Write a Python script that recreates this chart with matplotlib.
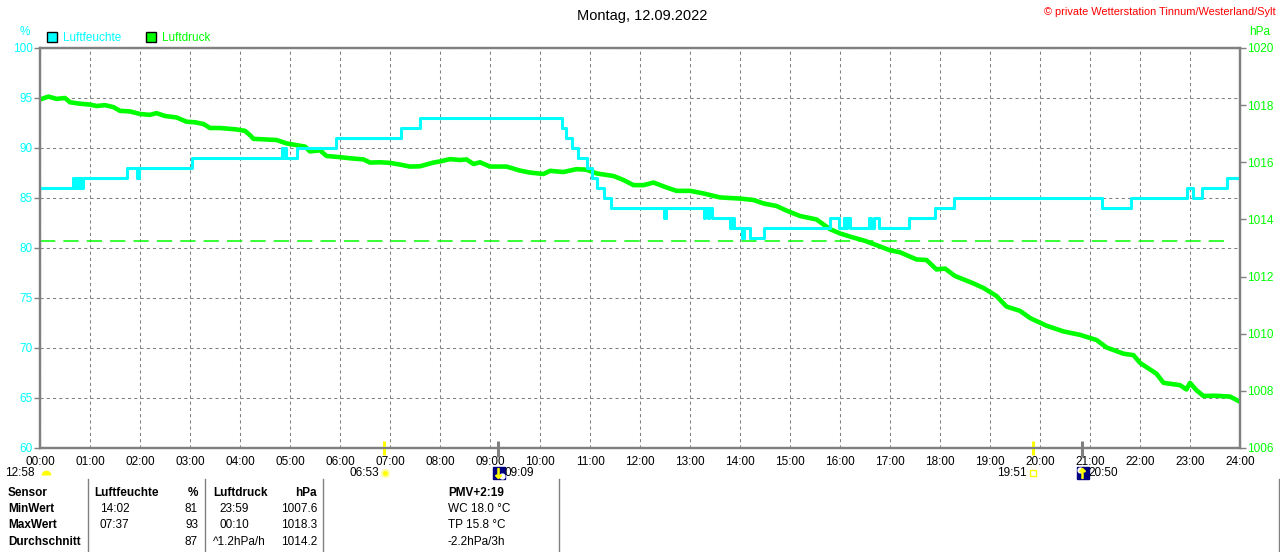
import matplotlib
matplotlib.use("Agg")
import matplotlib.pyplot as plt
from matplotlib.patches import Patch
from matplotlib.lines import Line2D
from matplotlib import transforms

plt.rcParams["font.family"] = ["Liberation Sans", "DejaVu Sans"]

CYAN = "#00FFFF"
GREEN = "#00FF00"
GREY = "#808080"
YELLOW = "#FFFF00"
NAVY = "#000080"

title = "Montag, 12.09.2022"
copyright_txt = "© private Wetterstation Tinnum/Westerland/Sylt"

# Luftfeuchte (%) - step series, hours / value
hum_h = [0, 0.65, 0.68, 0.72, 0.75, 0.78, 0.82, 0.86, 1.73, 1.93, 1.98, 3.03,
         4.83, 4.86, 4.88, 4.92, 5.13, 5.92, 7.21, 7.6, 10.43, 10.51, 10.63,
         10.75, 10.93, 11.03, 11.13, 11.27, 11.41, 12.47, 12.52, 13.27, 13.3,
         13.35, 13.38, 13.43, 13.8, 13.84, 13.87, 14.03, 14.08, 14.2, 14.47,
         15.79, 15.97, 16.07, 16.11, 16.14, 16.2, 16.57, 16.62, 16.67, 16.77,
         17.37, 17.9, 18.27, 21.23, 21.81, 22.93, 23.05, 23.23, 23.73, 24.0]
hum_v = [86, 87, 86, 87, 86, 87, 86, 87, 88, 87, 88, 89,
         90, 89, 90, 89, 90, 91, 92, 93, 92, 91, 90,
         89, 88, 87, 86, 85, 84, 83, 84, 83, 84,
         83, 84, 83, 82, 83, 82, 81, 82, 81, 82,
         83, 82, 83, 82, 83, 82, 83, 82, 83, 82,
         83, 84, 85, 84, 85, 86, 85, 86, 87, 87]

# Luftdruck (hPa)
pres_h = [0.0, 0.17, 0.33, 0.5, 0.6, 0.8, 1.0, 1.13, 1.3, 1.47, 1.6, 1.8, 2.0,
          2.2, 2.33, 2.5, 2.73, 2.93, 3.1, 3.27, 3.4, 3.6, 3.93, 4.1, 4.2,
          4.27, 4.5, 4.73, 4.93, 5.13, 5.3, 5.4, 5.6, 5.73, 6.0, 6.2, 6.47,
          6.6, 6.8, 7.0, 7.2, 7.4, 7.6, 7.87, 8.0, 8.2, 8.4, 8.53, 8.67, 8.8,
          9.0, 9.33, 9.6, 9.8, 10.07, 10.2, 10.47, 10.73, 10.93, 11.13, 11.47,
          11.67, 11.87, 12.07, 12.27, 12.53, 12.73, 13.0, 13.27, 13.6, 14.0,
          14.27, 14.47, 14.73, 14.93, 15.2, 15.53, 15.8, 16.0, 16.2, 16.5,
          16.73, 17.0, 17.2, 17.53, 17.73, 17.93, 18.1, 18.3, 18.67, 18.87,
          19.13, 19.33, 19.6, 19.8, 20.13, 20.47, 20.8, 21.13, 21.33, 21.67,
          21.87, 22.0, 22.33, 22.47, 22.8, 22.93, 23.0, 23.13, 23.27, 23.5,
          23.8, 24.0]
pres_v = [1018.20, 1018.30, 1018.22, 1018.25, 1018.10, 1018.05, 1018.02,
          1017.97, 1018.00, 1017.93, 1017.80, 1017.78, 1017.69, 1017.66,
          1017.72, 1017.62, 1017.57, 1017.42, 1017.40, 1017.34, 1017.20,
          1017.20, 1017.15, 1017.10, 1016.95, 1016.82, 1016.80, 1016.78,
          1016.66, 1016.60, 1016.55, 1016.38, 1016.42, 1016.22, 1016.18,
          1016.14, 1016.10, 1015.99, 1016.00, 1015.98, 1015.92, 1015.85,
          1015.86, 1015.99, 1016.03, 1016.11, 1016.08, 1016.10, 1015.94,
          1016.00, 1015.85, 1015.85, 1015.71, 1015.64, 1015.59, 1015.70,
          1015.66, 1015.76, 1015.74, 1015.61, 1015.52, 1015.38, 1015.20,
          1015.20, 1015.29, 1015.12, 1015.00, 1015.00, 1014.91, 1014.77,
          1014.73, 1014.68, 1014.56, 1014.47, 1014.31, 1014.12, 1014.00,
          1013.66, 1013.51, 1013.40, 1013.25, 1013.10, 1012.92, 1012.85,
          1012.60, 1012.58, 1012.25, 1012.28, 1012.02, 1011.76, 1011.60,
          1011.32, 1010.95, 1010.80, 1010.55, 1010.28, 1010.08, 1009.96,
          1009.78, 1009.52, 1009.30, 1009.25, 1008.98, 1008.60, 1008.28,
          1008.20, 1008.05, 1008.28, 1008.02, 1007.82, 1007.83, 1007.80,
          1007.62]
norm_pressure = 1013.25
norm_end_h = 23.8

x_labels = ["%02d:00" % h for h in range(25)]
hum_ticks = list(range(60, 101, 5))
pres_ticks = list(range(1006, 1021, 2))

# sun / moon events
start_note = "12:58"
sunrise = "06:53"
sunset = "19:51"
moonrise = "09:09"
moonset = "20:50"

# table below the chart
row_names = ["Sensor", "MinWert", "MaxWert", "Durchschnitt"]
hum_times = ["Luftfeuchte", "14:02", "07:37", ""]
hum_vals = ["%", "81", "93", "87"]
pres_times = ["Luftdruck", "23:59", "00:10", "^1.2hPa/h"]
pres_vals = ["hPa", "1007.6", "1018.3", "1014.2"]
extra = ["PMV+2:19", "WC 18.0 °C", "TP 15.8 °C", "-2.2hPa/3h"]


def to_h(s):
    h, m = s.split(":")
    return int(h) + int(m) / 60


FS = 8.5
W, H = 1280, 552
fig = plt.figure(figsize=(W / 100, H / 100), dpi=100)
ax = fig.add_axes([40 / W, 104 / H, 1200 / W, 400 / H])
ax2 = ax.twinx()
ax.set_zorder(ax2.get_zorder() + 1)
ax.patch.set_visible(False)

ax.set_xlim(0, 24)
ax.set_ylim(60, 100)
ax2.set_ylim(1006, 1020)

ax.grid(True, color=GREY, lw=0.75, ls=(0, (3, 3)))
ax.set_axisbelow(True)

ax.plot([0, norm_end_h], [norm_pressure, norm_pressure], color=GREEN,
        lw=1.1, ls=(0, (10, 5.3)), transform=ax2.transData)
ax.plot(pres_h, pres_v, color=GREEN, lw=3.3, transform=ax2.transData)
ax.step(hum_h, hum_v, where="post", color=CYAN, lw=2.2)

for a in (ax, ax2):
    for s in a.spines.values():
        s.set_color(GREY)
        s.set_linewidth(1.6)

ax.set_xticks(range(25))
ax.set_xticklabels(x_labels)
ax.tick_params(axis="x", length=0, pad=6, labelsize=FS, labelcolor="black")
ax.set_yticks(hum_ticks)
ax.tick_params(axis="y", length=4, width=1, color=GREY, pad=1,
               labelsize=FS, labelcolor=CYAN)
ax2.set_yticks(pres_ticks)
ax2.tick_params(axis="y", length=4, width=1, color=GREY, pad=1,
                labelsize=FS, labelcolor=GREEN)

# unit labels and legend
ax.text(-0.0125, 1.04, "%", color=CYAN, fontsize=FS, ha="center",
        va="center", transform=ax.transAxes)
ax.text(1.008, 1.04, "hPa", color=GREEN, fontsize=FS, ha="left",
        va="center", transform=ax.transAxes)
handles = [Patch(facecolor=CYAN, edgecolor="black", lw=1),
           Patch(facecolor=GREEN, edgecolor="black", lw=1)]
ax.legend(handles, ["Luftfeuchte", "Luftdruck"], loc="lower left",
          bbox_to_anchor=(0.006, 1.01), ncol=2, frameon=False, fontsize=FS,
          handlelength=0.85, handleheight=0.85, handletextpad=0.5,
          columnspacing=2.1, borderpad=0, borderaxespad=0,
          labelcolor=[CYAN, GREEN])

fig.text(642 / W, 1 - 16 / H, title, ha="center", va="center", fontsize=10.5)
fig.text(1276 / W, 1 - 12 / H, copyright_txt, ha="right", va="center",
         fontsize=7.9, color="red")

# sun / moon markers under the time axis
xt = ax.get_xaxis_transform()


def off(dx, dy=0):
    return transforms.offset_copy(xt, fig, x=dx, y=dy, units="dots")


y_icon = -0.0625
for t in (sunrise, sunset):
    ax.plot([to_h(t)] * 2, [0.0175, -0.018], color=YELLOW, lw=2.2,
            transform=xt, clip_on=False, solid_capstyle="butt")
for t in (moonrise, moonset):
    ax.plot([to_h(t)] * 2, [0.0175, -0.022], color=GREY, lw=2.2,
            transform=xt, clip_on=False, solid_capstyle="butt")

# 12:58 at start
ax.text(0, y_icon, start_note, transform=off(-5), ha="right", va="center",
        fontsize=FS)
ax.plot([0], [y_icon], marker="o", ms=7, fillstyle="top", mfc=YELLOW,
        mfcalt="none", mew=0, transform=off(6, -2), clip_on=False)

# sunrise
ax.text(to_h(sunrise), y_icon, sunrise, transform=off(-5), ha="right",
        va="center", fontsize=FS)
ax.plot([to_h(sunrise)], [y_icon], marker="o", ms=5, mfc=YELLOW,
        mec="#FFFFA0", mew=1.5, transform=off(1), clip_on=False)

# sunset
ax.text(to_h(sunset), y_icon, sunset, transform=off(-6), ha="right",
        va="center", fontsize=FS)
ax.plot([to_h(sunset)], [y_icon], marker="s", ms=4, mfc="none",
        mec=YELLOW, mew=1, transform=off(0), clip_on=False)

# moonrise / moonset icons
for t, arrow, moon_dx, moon_dy in ((moonrise, r"$\downarrow$", 3, -3),
                                  (moonset, r"$\uparrow$", -3, 3)):
    ax.plot([to_h(t)], [y_icon], marker="s", ms=8.5, mfc=NAVY, mec=NAVY,
            transform=off(1), clip_on=False)
    ax.plot([to_h(t)], [y_icon], marker="o", ms=3.5, mfc="white", mec="white",
            transform=off(1 + moon_dx, moon_dy), clip_on=False)
    ax.plot([to_h(t)], [y_icon], marker=arrow, ms=7, mfc=YELLOW, mec=YELLOW,
            transform=off(0), clip_on=False)
    ax.text(to_h(t), y_icon, t, transform=off(7), ha="left", va="center",
            fontsize=FS)

# table
row_y = [493, 509, 525, 542]
for x in (88, 205, 323, 559, 1279):
    fig.add_artist(Line2D([x / W, x / W], [0, 1 - 479 / H], color=GREY,
                          lw=1, transform=fig.transFigure))


def cell(x, y, s, ha="left", bold=False):
    fig.text(x / W, 1 - y / H, s, ha=ha, va="center", fontsize=FS,
             fontweight="bold" if bold else "normal")


for i, y in enumerate(row_y):
    head = i == 0
    cell(8, y, row_names[i], bold=True)
    cell(94 if head else 100, y, hum_times[i], bold=head)
    cell(198, y, hum_vals[i], ha="right", bold=head)
    cell(213 if (head or i == 3) else 219, y, pres_times[i], bold=head)
    cell(317, y, pres_vals[i], ha="right", bold=head)
    cell(448, y, extra[i], bold=head)

fig.savefig("out.png", dpi=100)
